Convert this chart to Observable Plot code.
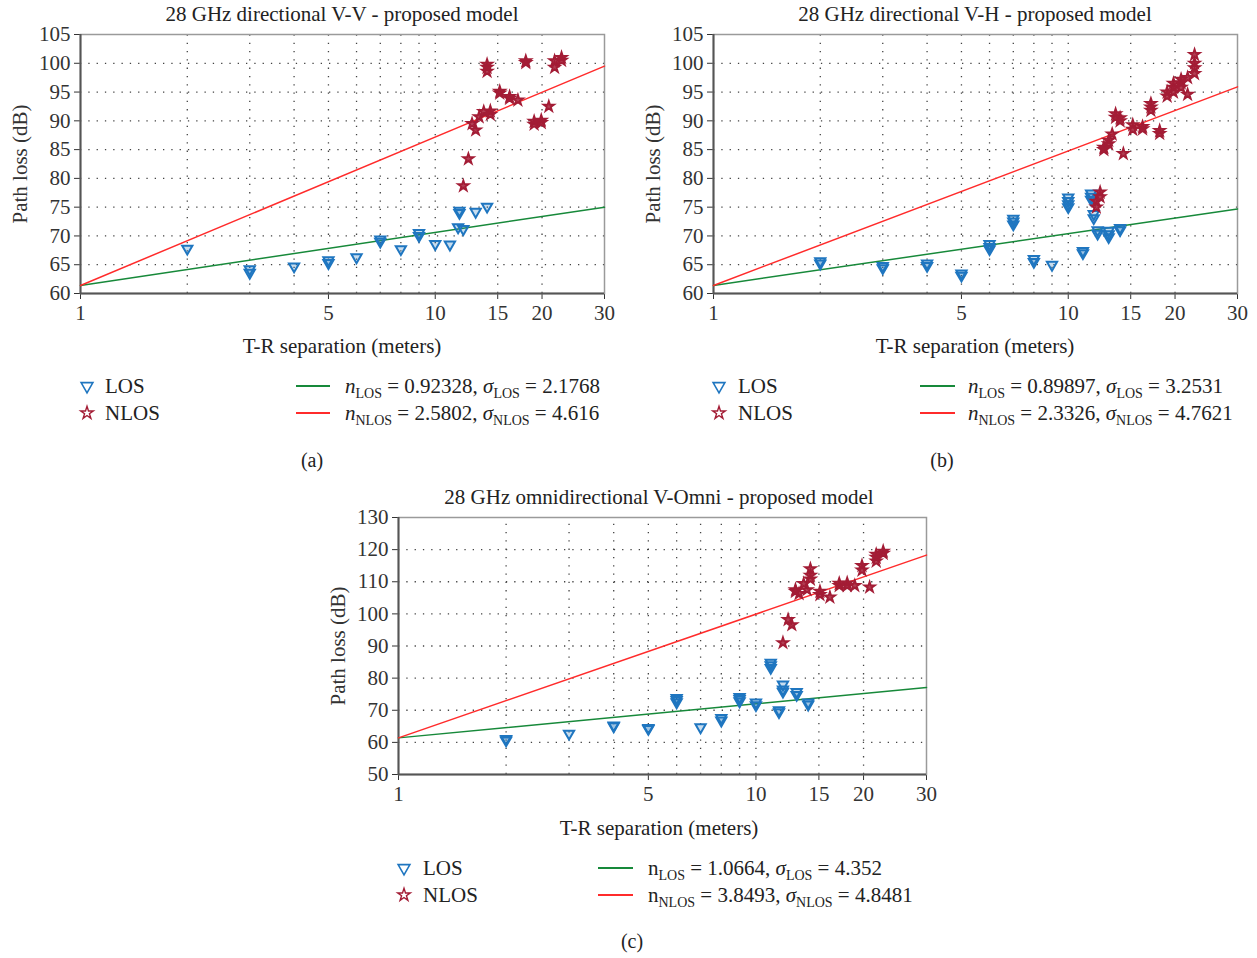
<!DOCTYPE html>
<html><head><meta charset="utf-8">
<script src="https://cdn.jsdelivr.net/npm/d3@7"></script>
<script src="https://cdn.jsdelivr.net/npm/@observablehq/plot@0.6"></script>
<style>
html,body{margin:0;padding:0;background:#fff;}
body{width:1257px;height:958px;position:relative;overflow:hidden;font-family:"Liberation Serif","DejaVu Serif",serif;color:#222;}
.abs{position:absolute;white-space:nowrap;line-height:1;}
.c{transform:translate(-50%,-50%);}
.l{transform:translate(0,-50%);}
.title{font-size:21px;}
.xlab{font-size:21px;}
.leg{font-size:21px;}
.cap{font-size:20px;}
sub{font-size:14px;vertical-align:-5px;line-height:0;}
.panel{position:absolute;}
.panel svg text{font-size:21px;}
</style>
</head><body>
<script>
// ---------- data ----------
const xTicks = [1, 5, 10, 15, 20, 30];
const xGrid = [2, 3, 4, 5, 6, 7, 8, 9, 10, 15, 20];
const yTicksAB = [60, 65, 70, 75, 80, 85, 90, 95, 100, 105];
const yTicksC = [50, 60, 70, 80, 90, 100, 110, 120, 130];

const titles = ["28 GHz directional V-V - proposed model", "28 GHz directional V-H - proposed model", "28 GHz omnidirectional V-Omni - proposed model"];
const xLabel = "T-R separation (meters)";
const yLabel = "Path loss (dB)";
const captions = ["(a)", "(b)", "(c)"];

// n and sigma values (legend)
const nLos = ["0.92328", "0.89897", "1.0664"];
const sLos = ["2.1768", "3.2531", "4.352"];
const nNlos = ["2.5802", "2.3326", "3.8493"];
const sNlos = ["4.616", "4.7621", "4.8481"];

// fitted lines: [distance (m), path loss (dB)] at 1 m and 30 m
const aLosLine = [[1, 61.4], [30, 75.0]];
const aNlosLine = [[1, 61.4], [30, 99.5]];
const bLosLine = [[1, 61.4], [30, 74.7]];
const bNlosLine = [[1, 61.4], [30, 95.9]];
const cLosLine = [[1, 61.4], [30, 77.1]];
const cNlosLine = [[1, 61.4], [30, 118.3]];

// measured points: [distance (m), path loss (dB)]
const aLos = [[2,67.8],[3,64.2],[3,63.6],[4,64.7],[5,65.8],[5,65.3],[6,66.3],[7,69.4],[7,69.0],[8,67.7],[9,70.5],[9,70.0],[10,68.6],[11,68.5],[11.7,74.4],[11.7,74.0],[11.6,71.5],[12,71.2],[13,74.2],[14,75.1]];
const aNlos = [[12,78.7],[12.4,83.4],[12.7,89.5],[13,88.4],[13.3,90.7],[13.7,91.6],[14,99.3],[14,98.6],[14,99.8],[14.3,91.7],[14.3,91.1],[15.2,95.1],[15.2,94.8],[16.2,94.2],[16.2,93.9],[17.1,93.6],[18,100.1],[18,100.4],[19,89.9],[19,89.4],[19.9,90.1],[19.9,89.7],[20.9,92.5],[21.7,100.4],[21.7,99.3],[22.7,101.0],[22.7,100.5]];

const bLos = [[2,65.6],[2,65.2],[3,64.8],[3,64.4],[4,65.2],[4,64.8],[5,63.5],[5,63.1],[6,68.6],[6,68.1],[6,67.7],[7,73.0],[7,72.5],[7,72.0],[8,66.0],[8,65.5],[9,65.0],[10,76.7],[10,76.1],[10,75.5],[10,75.0],[11,67.4],[11,67.0],[11.6,77.4],[11.6,76.8],[11.6,76.3],[11.8,73.8],[11.8,73.1],[12.1,71.0],[12.1,70.4],[13,70.9],[13,70.3],[13,69.8],[14,71.4],[14,71.0]];
const bNlos = [[12,75.0],[12,76.0],[12.3,77.6],[12.3,76.8],[12.6,85.4],[12.6,85.0],[13,86.0],[13,86.6],[13.3,87.7],[13.6,91.2],[13.6,90.6],[14,90.5],[14,90.0],[14.3,84.3],[15.2,88.5],[15.2,89.3],[16.2,88.6],[16.2,89.0],[17.1,92.4],[17.1,91.8],[17.1,93.0],[18.1,88.3],[18.1,87.8],[19,94.3],[19,95.0],[19.8,95.8],[19.8,96.5],[19.8,95.0],[20.8,96.6],[20.8,97.2],[20.8,95.8],[21.7,94.6],[21.7,97.5],[22.7,101.5],[22.7,100.0],[22.7,99.2],[22.7,98.2]];

const cLos = [[2,61.1],[2,60.6],[3,62.7],[4,65.3],[4,65.0],[5,64.5],[5,64.2],[6,73.8],[6,73.2],[6,72.5],[7,64.7],[8,67.6],[8,66.8],[9,74.1],[9,73.5],[9,72.8],[10,72.4],[10,71.6],[11,84.8],[11,84.0],[11,83.2],[11.6,70.0],[11.6,69.4],[11.9,78.0],[11.9,76.5],[11.9,75.8],[13,75.7],[13,74.8],[14,72.4],[14,71.8]];
const cNlos = [[11.9,91.0],[12.3,98.2],[12.6,96.6],[12.9,107.5],[12.9,107.0],[13.2,106.3],[13.6,109.4],[13.9,107.5],[14.2,114.0],[14.2,112.0],[14.2,110.8],[15.1,107.0],[15.1,106.0],[16.1,105.2],[17.1,108.8],[17.1,109.5],[18,108.8],[18,109.6],[18.9,108.8],[19.8,115.0],[19.8,113.6],[20.8,108.3],[21.7,117.6],[21.7,116.4],[21.7,118.5],[22.7,119.5],[22.7,118.8]];

// ---------- style ----------
const BLUE = "#1f76c0", RED = "#a31c35", GREEN = "#17893a", LRED = "#ff2b2b";

function makePanel(los, nlos, losLine, nlosLine, yTicks, m) {
  const y0 = yTicks[0], y1 = yTicks[yTicks.length - 1];
  return Plot.plot({
    width: m.w, height: m.h,
    marginLeft: m.l, marginRight: m.r, marginTop: m.t, marginBottom: m.b,
    style: {fontFamily: '"Liberation Serif", "DejaVu Serif", serif', fontSize: "21px", color: "#333", background: "transparent", overflow: "visible"},
    x: {type: "log", domain: [1, 30], ticks: xTicks, tickFormat: d => String(d), tickSize: 6, tickPadding: 6, label: null},
    y: {domain: [y0, y1], ticks: yTicks, tickSize: 6, tickPadding: 4, label: yLabel, labelAnchor: "center", labelOffset: m.lo, labelArrow: "none"},
    marks: [
      Plot.ruleX(xGrid, {y1: y0, y2: y1, stroke: "#444", strokeWidth: 1.3, strokeDasharray: "1.3,7"}),
      Plot.ruleY(yTicks.slice(1, -1), {x1: 1, x2: 30, stroke: "#444", strokeWidth: 1.3, strokeDasharray: "1.3,7"}),
      Plot.frame({stroke: "#9a9a9a", strokeWidth: 1.5}),
      Plot.ruleY([y0], {x1: 1, x2: 30, stroke: "#555", strokeWidth: 2}),
      Plot.ruleX([1], {y1: y0, y2: y1, stroke: "#555", strokeWidth: 2}),
      Plot.line(losLine, {x: d => d[0], y: d => d[1], stroke: GREEN, strokeWidth: 1.5}),
      Plot.line(nlosLine, {x: d => d[0], y: d => d[1], stroke: LRED, strokeWidth: 1.5}),
      Plot.dot(los, {x: d => d[0], y: d => d[1], symbol: "triangle", rotate: 180, r: 3.8, stroke: BLUE, strokeWidth: 2, fill: BLUE, fillOpacity: 0.25}),
      Plot.dot(nlos, {x: d => d[0], y: d => d[1], symbol: "star", r: 3.3, stroke: RED, strokeWidth: 1.8, fill: RED, fillOpacity: 0.85})
    ]
  });
}

function place(el, left, top) {
  const d = document.createElement("div");
  d.className = "panel";
  d.style.left = left + "px"; d.style.top = top + "px";
  d.appendChild(el);
  document.body.appendChild(d);
}
function text(x, y, html, cls, anchor) {
  const d = document.createElement("div");
  d.className = "abs " + (anchor === "l" ? "l " : "c ") + cls;
  d.style.left = x + "px"; d.style.top = y + "px";
  d.innerHTML = html;
  document.body.appendChild(d);
}
const triPath = d3.symbol(d3.symbolTriangle, 60)();
const starPath = d3.symbol(d3.symbolStar, 50)();
function legendSymbol(x, y, kind) {
  const ns = "http://www.w3.org/2000/svg";
  const s = document.createElementNS(ns, "svg");
  s.setAttribute("width", 20); s.setAttribute("height", 20);
  s.style.position = "absolute"; s.style.left = (x - 10) + "px"; s.style.top = (y - 10) + "px";
  const p = document.createElementNS(ns, "path");
  p.setAttribute("d", kind === "tri" ? triPath : starPath);
  p.setAttribute("transform", kind === "tri" ? "translate(10,10) rotate(180)" : "translate(10,10)");
  p.setAttribute("fill", "none");
  p.setAttribute("stroke", kind === "tri" ? BLUE : RED);
  p.setAttribute("stroke-width", kind === "tri" ? 1.6 : 1.4);
  s.appendChild(p);
  document.body.appendChild(s);
}
function legendLine(x1, x2, y, color) {
  const d = document.createElement("div");
  d.style.cssText = `position:absolute;left:${x1}px;top:${y - 1}px;width:${x2 - x1}px;height:1.6px;background:${color};`;
  document.body.appendChild(d);
}

// ---------- panels ----------
const mAB = {w: 620, h: 330, l: 80, r: 16, t: 34, b: 37, lo: 68};
place(makePanel(aLos, aNlos, aLosLine, aNlosLine, yTicksAB, mAB), 0, 0);
place(makePanel(bLos, bNlos, bLosLine, bNlosLine, yTicksAB, mAB), 633, 0);
place(makePanel(cLos, cNlos, cLosLine, cNlosLine, yTicksC, {w: 620, h: 330, l: 80, r: 12, t: 34, b: 39, lo: 68}), 318, 483);

// ---------- text ----------
const panels = [
  {tx: 342, ty: 14, xl: 346, sym: 87, lt: 105, l1: 296, l2: 330, mt: 345, r1: 386, r2: 413, cx: 312, cy: 460, ital: true},
  {tx: 975, ty: 14, xl: 346, sym: 719, lt: 738, l1: 920, l2: 955, mt: 968, r1: 386, r2: 413, cx: 942, cy: 460, ital: true},
  {tx: 659, ty: 497, xl: 828, sym: 404, lt: 423, l1: 598, l2: 633, mt: 648, r1: 868, r2: 895, cx: 632, cy: 941, ital: false}
];
panels.forEach((p, i) => {
  text(p.tx, p.ty, titles[i], "title");
  text(p.tx, p.xl, xLabel, "xlab");
  legendSymbol(p.sym, p.r1, "tri");
  legendSymbol(p.sym, p.r2, "star");
  text(p.lt, p.r1, "LOS", "leg", "l");
  text(p.lt, p.r2, "NLOS", "leg", "l");
  legendLine(p.l1, p.l2, p.r1, GREEN);
  legendLine(p.l1, p.l2, p.r2, LRED);
  const n = p.ital ? "<i>n</i>" : "n";
  text(p.mt, p.r1, `${n}<sub>LOS</sub> = ${nLos[i]}, <i>σ</i><sub>LOS</sub> = ${sLos[i]}`, "leg", "l");
  text(p.mt, p.r2, `${n}<sub>NLOS</sub> = ${nNlos[i]}, <i>σ</i><sub>NLOS</sub> = ${sNlos[i]}`, "leg", "l");
  text(p.cx, p.cy, captions[i], "cap");
});
</script>
</body></html>
